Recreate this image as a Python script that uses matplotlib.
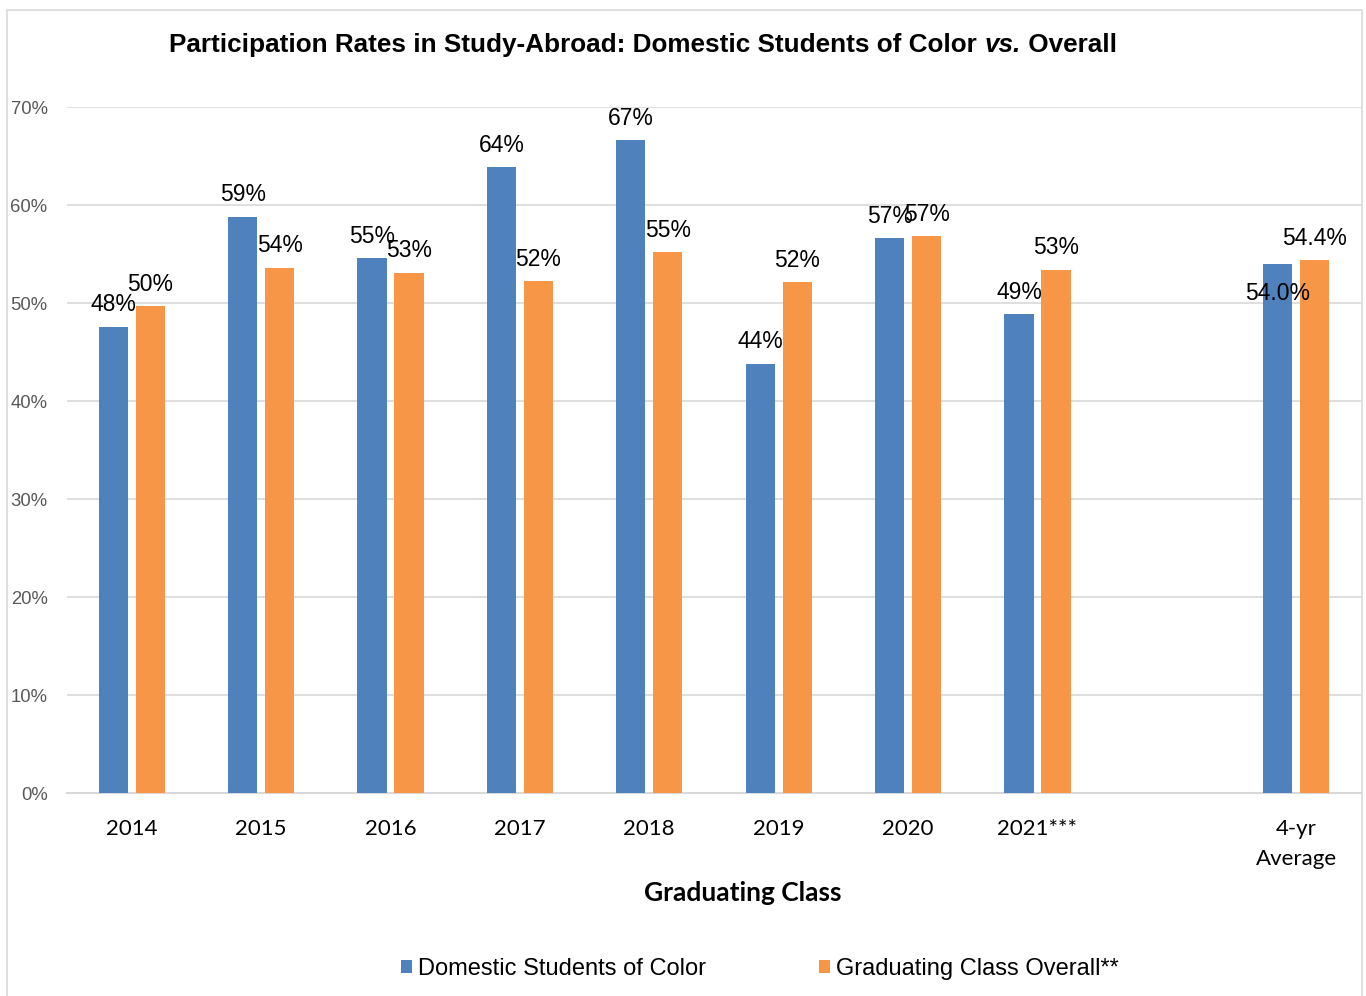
import numpy as np
import matplotlib
matplotlib.use("Agg")
import matplotlib.pyplot as plt
from matplotlib.patches import Rectangle

categories = ['2014', '2015', '2016', '2017', '2018', '2019', '2020', '2021***', '4-yr\nAverage']
students_of_color = [47.6, 58.8, 54.6, 63.9, 66.6, 43.8, 56.6, 48.9, 54.0]
class_overall = [49.7, 53.6, 53.1, 52.2, 55.2, 52.1, 56.8, 53.4, 54.4]
label_fmt = ['{:.0f}%'] * 8 + ['{:.1f}%']
series_names = ['Domestic Students of Color', 'Graduating Class Overall**']
yticks = [0, 10, 20, 30, 40, 50, 60, 70]
title_parts = ['Participation Rates in Study-Abroad: Domestic Students of Color ', 'vs.', ' Overall']

BLUE = '#4F81BD'
ORANGE = '#F79646'
GRID = '#D9D9D9'

plt.rcParams['font.family'] = ['Liberation Sans', 'DejaVu Sans']

W, H = 1366, 996
fig = plt.figure(figsize=(W / 100, H / 100), dpi=100)

# outer chart border
fig.patches.append(Rectangle((7 / W, -0.05), (1362 - 7) / W, 1 - 10 / H + 0.05,
                             transform=fig.transFigure, fill=False,
                             edgecolor=GRID, linewidth=1.2))

ax = fig.add_axes([67 / W, 1 - 793 / H, (1361 - 67) / W, (793 - 107) / H])

pos = np.arange(len(categories), dtype=float)
pos[-1] += 1  # empty slot before the average
bw = 0.225
off = 0.143

b1 = ax.bar(pos - off, students_of_color, bw, color=BLUE, zorder=3, label=series_names[0])
b2 = ax.bar(pos + off, class_overall, bw, color=ORANGE, zorder=3, label=series_names[1])

ax.set_xlim(-0.5, 9.5)
ax.set_ylim(0, 70)
ax.set_yticks(yticks, [f'{t}%' for t in yticks])
ax.yaxis.grid(True, color=GRID, linewidth=1.2, zorder=0)
ax.set_axisbelow(True)
for s in ['top', 'right', 'left']:
    ax.spines[s].set_visible(False)
ax.spines['bottom'].set_color(GRID)
ax.spines['bottom'].set_linewidth(1.5)
ax.tick_params(axis='both', length=0)
ax.tick_params(axis='y', labelsize=13.3, labelcolor='#595959', pad=14)
ax.set_xticks(pos, categories)
for t in ax.get_xticklabels():
    t.set_fontfamily('Lato')
    t.set_fontsize(16)
    t.set_linespacing(1.62)
ax.tick_params(axis='x', pad=19)

# data labels
for i, (p, v) in enumerate(zip(pos, students_of_color)):
    dy = 11 if i < len(categories) - 1 else -26
    ax.annotate(label_fmt[i].format(v), (p - off, v), xytext=(0, dy),
                textcoords='offset points', ha='center', va='baseline',
                fontsize=16.5, color='black', zorder=5)
for i, (p, v) in enumerate(zip(pos, class_overall)):
    ax.annotate(label_fmt[i].format(v), (p + off, v), xytext=(0, 11),
                textcoords='offset points', ha='center', va='baseline',
                fontsize=16.5, color='black', zorder=5)

# title made of three pieces (bold / bold italic / bold)
renderer = fig.canvas.get_renderer()
styles = ['normal', 'italic', 'normal']
tsize = 18.8
pieces = [fig.text(0, 0, s, fontsize=tsize, fontweight='bold', fontstyle=st,
                   va='center', ha='left') for s, st in zip(title_parts, styles)]
widths = [p.get_window_extent(renderer).width for p in pieces]
total = sum(widths)
x0 = 643 - total / 2
for p, w in zip(pieces, widths):
    p.set_position((x0 / W, 1 - 45 / H))
    x0 += w

# x axis title
fig.text(743 / W, 1 - 893 / H, 'Graduating Class', ha='center', va='center',
         fontsize=19, fontweight='bold', fontfamily='Lato')

leg = fig.legend(handles=[b1, b2], labels=series_names, loc='center',
                 bbox_to_anchor=(760 / W, 1 - 969 / H), ncol=2, frameon=False,
                 fontsize=17, handlelength=0.45, handleheight=0.45,
                 handletextpad=0.25, columnspacing=4.8, borderpad=0)

fig.savefig('out.png', dpi=100)
